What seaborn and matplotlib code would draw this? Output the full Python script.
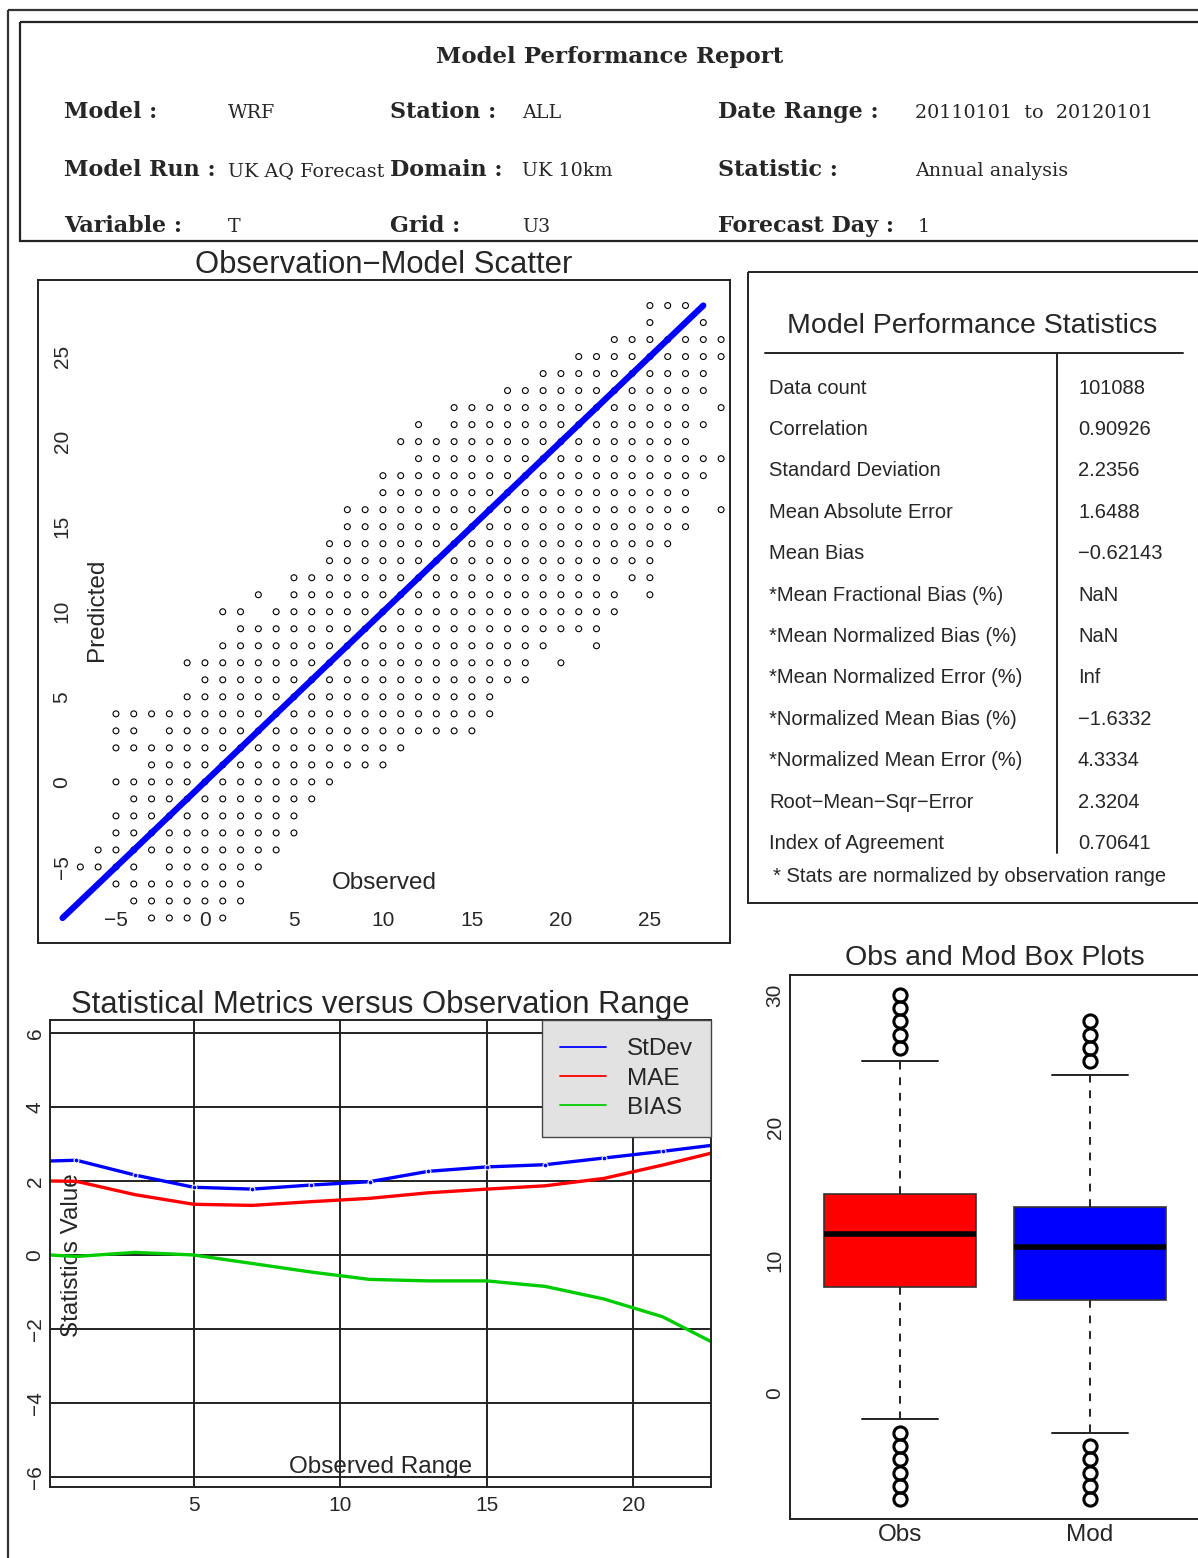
import matplotlib
matplotlib.use("Agg")
import matplotlib.pyplot as plt
from matplotlib.patches import Rectangle
from matplotlib.lines import Line2D
import seaborn as sns
import numpy as np

# ---- header info ----
report_title = "Model Performance Report"
header_rows = [
    [("Model :", "WRF"), ("Station :", "ALL"), ("Date Range :", "20110101  to  20120101")],
    [("Model Run :", "UK AQ Forecast"), ("Domain :", "UK 10km"), ("Statistic :", "Annual analysis")],
    [("Variable :", "T"), ("Grid :", "U3"), ("Forecast Day :", "1")],
]

# ---- scatter (observed vs predicted), rows of integer grid: (predicted, [(obs_from, obs_to), ...]) ----
scatter_rows = [
    (28, [(25, 27)]),
    (27, [(25, 25), (28, 28)]),
    (26, [(23, 29)]),
    (25, [(21, 29)]),
    (24, [(19, 28)]),
    (23, [(17, 28)]),
    (22, [(14, 27), (29, 29)]),
    (21, [(12, 12), (14, 28)]),
    (20, [(11, 27)]),
    (19, [(12, 29)]),
    (18, [(10, 28)]),
    (17, [(10, 27)]),
    (16, [(8, 27), (29, 29)]),
    (15, [(8, 27)]),
    (14, [(7, 26)]),
    (13, [(7, 25)]),
    (12, [(5, 22), (24, 25)]),
    (11, [(3, 3), (5, 23), (25, 25)]),
    (10, [(1, 2), (4, 23)]),
    (9, [(2, 22)]),
    (8, [(1, 19), (22, 22)]),
    (7, [(-1, 18), (20, 20)]),
    (6, [(0, 18)]),
    (5, [(-1, 16)]),
    (4, [(-5, 16)]),
    (3, [(-5, -4), (-2, 15)]),
    (2, [(-5, 11)]),
    (1, [(-3, 10)]),
    (0, [(-5, 7)]),
    (-1, [(-4, 6)]),
    (-2, [(-5, 5)]),
    (-3, [(-5, 5)]),
    (-4, [(-6, 4)]),
    (-5, [(-7, -4), (-2, 3)]),
    (-6, [(-5, 2)]),
    (-7, [(-4, 2)]),
    (-8, [(-3, -1), (1, 1)]),
]
fit_x = [-8, 28]
fit_y = [-8, 28]
scatter_ticks = [-5, 0, 5, 10, 15, 20, 25]

# ---- statistics table ----
stat_names = ["Data count", "Correlation", "Standard Deviation", "Mean Absolute Error",
              "Mean Bias", "*Mean Fractional Bias (%)", "*Mean Normalized Bias (%)",
              "*Mean Normalized Error (%)", "*Normalized Mean Bias (%)",
              "*Normalized Mean Error (%)", "Root\u2212Mean\u2212Sqr\u2212Error", "Index of Agreement"]
stat_values = ["101088", "0.90926", "2.2356", "1.6488", "\u22120.62143", "NaN", "NaN",
               "Inf", "\u22121.6332", "4.3334", "2.3204", "0.70641"]

# ---- metrics versus observed range ----
obs_range = [0.1, 1, 3, 5, 7, 9, 11, 13, 15, 17, 19, 21, 22.65]
stdev_vals = [2.54, 2.56, 2.16, 1.83, 1.78, 1.89, 1.98, 2.26, 2.38, 2.44, 2.62, 2.80, 2.96]
mae_vals = [2.00, 1.99, 1.63, 1.37, 1.34, 1.44, 1.53, 1.68, 1.78, 1.87, 2.07, 2.43, 2.75]
bias_vals = [0.00, -0.04, 0.07, 0.00, -0.23, -0.46, -0.66, -0.70, -0.70, -0.85, -1.19, -1.67, -2.34]

# ---- box plots ----
box_labels = ["Obs", "Mod"]
box_q1 = [8, 7]
box_med = [12, 11]
box_q3 = [15, 14]
box_lo = [-2, -3]
box_hi = [25, 24]
box_fliers = [[26, 27, 28, 29, 30, -3, -4, -5, -6, -7, -8],
              [25, 26, 27, 28, -4, -5, -6, -7, -8]]
box_colors = ["#ff0000", "#0000ff"]

sns.set_theme(style="white")
plt.rcParams["font.family"] = ["Liberation Sans", "DejaVu Sans"]
plt.rcParams["axes.unicode_minus"] = True

W, H = 1198, 1558
fig = plt.figure(figsize=(W / 100, H / 100), dpi=100)


def px_axes(x0, y0, x1, y1):
    return fig.add_axes([x0 / W, 1 - y1 / H, (x1 - x0) / W, (y1 - y0) / H])


# overlay in pixel units for frames / header / table
ov = fig.add_axes([0, 0, 1, 1])
ov.set_xlim(0, W)
ov.set_ylim(H, 0)
ov.axis("off")
ov.add_patch(Rectangle((8, 10), 1250, 1600, fill=False, lw=1.6, ec="#333"))
ov.add_patch(Rectangle((20, 22), 1250, 219, fill=False, lw=1.6, ec="#222"))

serif = ["DejaVu Serif"]
ov.text(610, 57, report_title, ha="center", va="center", family=serif, size=16.5, weight="bold")
col_label_x = [64, 390, 718]
col_value_x = [228, 522, 915]
row_y = [112, 170, 226]
for r, row in enumerate(header_rows):
    for c, (lab, val) in enumerate(row):
        ov.text(col_label_x[c], row_y[r], lab, ha="left", va="center", family=serif,
                size=16, weight="bold")
        vx = col_value_x[c]
        if lab == "Forecast Day :":
            vx = 918
        ov.text(vx, row_y[r] + 1, val, ha="left", va="center", family=serif, size=13.8)

# statistics table
ov.add_patch(Rectangle((748, 272), 500, 631, fill=False, lw=1.4, ec="#222"))
ov.text(972, 326, "Model Performance Statistics", ha="center", va="center", size=20.5)
ov.plot([765, 1183], [353, 353], color="#222", lw=1.4)
ov.plot([1057, 1057], [353, 853], color="#222", lw=1.4)
for i, (nm, vl) in enumerate(zip(stat_names, stat_values)):
    yy = 388 + i * 41.4
    ov.text(769, yy, nm, ha="left", va="center", size=14.5)
    ov.text(1078, yy, vl, ha="left", va="center", size=14.5)
ov.text(773, 876, "* Stats are normalized by observation range", ha="left", va="center", size=14.5)

# ---- scatter panel ----
ax1 = px_axes(38, 280, 730, 943)
obs_pts, mod_pts = [], []
for yv, runs in scatter_rows:
    for a, b in runs:
        for xv in range(a, b + 1):
            obs_pts.append(xv)
            mod_pts.append(yv)
sns.scatterplot(x=obs_pts, y=mod_pts, ax=ax1, marker="o", s=18,
                facecolor="none", edgecolor="black", linewidth=0.8)
sns.lineplot(x=fit_x, y=fit_y, ax=ax1, color="#0000ff", linewidth=4.5, solid_capstyle="round")
ax1.set_xlim(-9.38, 29.5)
ax1.set_ylim(-9.47, 29.5)
ax1.set_xticks(scatter_ticks)
ax1.set_yticks(scatter_ticks)
ax1.tick_params(axis="x", direction="in", length=5, pad=-16.5, labelsize=15, color="#333")
ax1.tick_params(axis="y", direction="in", length=5, pad=-17.3, labelsize=15, labelrotation=90, color="#333")
for t in ax1.get_xticklabels():
    t.set_va("center")
for t in ax1.get_yticklabels():
    t.set_ha("center")
    t.set_va("center")
ax1.set_xlabel("Observed", fontsize=17.5)
ax1.set_ylabel("Predicted", fontsize=17.5)
ax1.xaxis.label.set_va("center")
ax1.yaxis.label.set_va("center")
ax1.xaxis.set_label_coords(0.5, 0.0905)
ax1.yaxis.set_label_coords(0.085, 0.502)
ax1.set_title("Observation\u2212Model Scatter", fontsize=22.3, y=1.0226, va="center", pad=0)
for s in ax1.spines.values():
    s.set_color("#222")
    s.set_linewidth(1.4)

# ---- metrics vs range ----
ax2 = px_axes(50, 1020, 711, 1487)
series = [("StDev", stdev_vals, "#0000ff"), ("MAE", mae_vals, "#ff0000"), ("BIAS", bias_vals, "#00cc00")]
for name, vals, col in series:
    if name == "StDev":
        sns.lineplot(x=obs_range, y=vals, ax=ax2, color=col, linewidth=2.4,
                     marker="o", markersize=3.5, markevery=list(range(1, len(obs_range) - 1)))
    else:
        sns.lineplot(x=obs_range, y=vals, ax=ax2, color=col, linewidth=2.4)
ax2.set_xlim(0.1, 22.65)
ax2.set_ylim(-6.27, 6.35)
ax2.set_xticks([5, 10, 15, 20])
ax2.set_yticks([-6, -4, -2, 0, 2, 4, 6])
ax2.grid(True, color="#222", linewidth=1.4)
ax2.set_axisbelow(True)
ax2.tick_params(axis="x", length=0, pad=13, labelsize=15)
ax2.tick_params(axis="y", length=0, pad=10.8, labelsize=15, labelrotation=90)
for t in ax2.get_xticklabels():
    t.set_va("center")
for t in ax2.get_yticklabels():
    t.set_ha("center")
    t.set_va("center")
ax2.set_xlabel("Observed Range", fontsize=17.5)
ax2.set_ylabel("Statistics Value", fontsize=17.5)
ax2.xaxis.label.set_va("center")
ax2.yaxis.label.set_va("center")
ax2.xaxis.set_label_coords(0.5, 0.043)
ax2.yaxis.set_label_coords(0.033, 0.497)
ax2.set_title("Statistical Metrics versus Observation Range", fontsize=22.3, y=1.032, va="center", pad=0)
handles = [Line2D([], [], color=c, lw=1.3) for _, _, c in series]
ax2.legend(handles, [n for n, _, _ in series], loc="upper right", borderaxespad=0,
           fancybox=False, facecolor="#e2e2e2", edgecolor="#444", framealpha=1,
           fontsize=17.5, handlelength=1.9, handletextpad=0.85, borderpad=0.75,
           labelspacing=0.3)
for s in ax2.spines.values():
    s.set_color("#222")
    s.set_linewidth(1.4)

# ---- box plots ----
ax3 = px_axes(790, 975, 1200, 1519)
stats = []
for i, lab in enumerate(box_labels):
    stats.append(dict(label=lab, q1=box_q1[i], med=box_med[i], q3=box_q3[i],
                      whislo=box_lo[i], whishi=box_hi[i], fliers=box_fliers[i]))
bp = ax3.bxp(stats, positions=[1, 2], widths=0.8, patch_artist=True, capwidths=0.4,
             boxprops=dict(edgecolor="#333", linewidth=1.2),
             medianprops=dict(color="black", linewidth=4),
             whiskerprops=dict(color="#222", linewidth=1.4, linestyle=(0, (4, 4))),
             capprops=dict(color="#222", linewidth=1.4),
             flierprops=dict(marker="o", markerfacecolor="none", markeredgecolor="black",
                             markersize=9.5, markeredgewidth=2.2))
for patch, col in zip(bp["boxes"], box_colors):
    patch.set_facecolor(col)
ax3.set_xlim(0.42, 2.58)
ax3.set_ylim(-9.5, 31.5)
ax3.set_yticks([0, 10, 20, 30])
ax3.tick_params(axis="y", direction="in", length=6, pad=10.8, labelsize=15, labelrotation=90, color="#222")
ax3.tick_params(axis="x", direction="in", length=6, pad=11.5, labelsize=17.5, color="#222")
for t in ax3.get_xticklabels():
    t.set_va("center")
for t in ax3.get_yticklabels():
    t.set_ha("center")
    t.set_va("center")
ax3.set_title("Obs and Mod Box Plots", fontsize=20.5, y=1.031, va="center", pad=0)
for s in ax3.spines.values():
    s.set_color("#222")
    s.set_linewidth(1.4)

fig.savefig("out.png", dpi=100)
